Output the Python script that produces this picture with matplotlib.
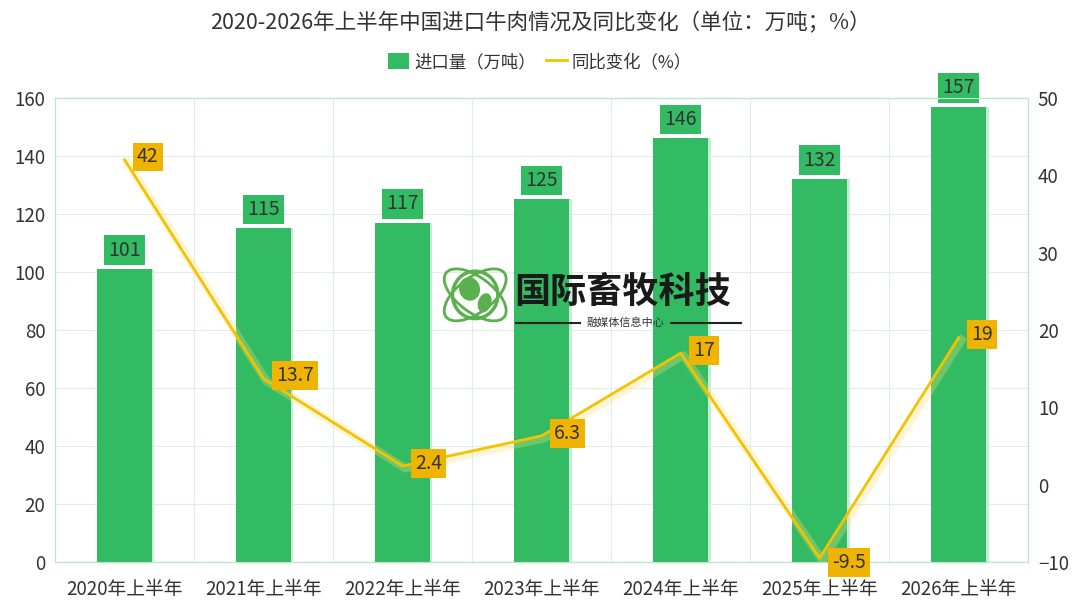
import matplotlib.pyplot as plt
import numpy as np
from matplotlib.patches import Ellipse, Circle

plt.rcParams['font.family'] = ['Noto Sans CJK SC', 'DejaVu Sans']

# data
years = ['2020年上半年', '2021年上半年', '2022年上半年', '2023年上半年',
         '2024年上半年', '2025年上半年', '2026年上半年']
imports = [101, 115, 117, 125, 146, 132, 157]
yoy = [42, 13.7, 2.4, 6.3, 17, -9.5, 19]
yoy_labels = ['42', '13.7', '2.4', '6.3', '17', '-9.5', '19']

GREEN = '#33BB63'
YELLOW = '#F5C200'
LABEL_Y = '#F0B400'
TXT = '#333333'

fig = plt.figure(figsize=(10.8, 6.08), dpi=100)
ax = fig.add_axes([0.051, 0.0757, 0.901, 0.7633])
ax2 = ax.twinx()

x = np.arange(len(years))
# soft bar shadow
ax.bar(x + 0.015, imports, width=0.4, color='#C8EDD4', zorder=2)
ax.bar(x, imports, width=0.4, color=GREEN, zorder=3)
for xi, v in zip(x, imports):
    ax.annotate(str(v), (xi, v), xytext=(0, 6), textcoords='offset points',
                ha='center', va='bottom', fontsize=14, color=TXT, zorder=5,
                bbox=dict(boxstyle='square,pad=0.22', fc=GREEN, ec='none'))

ax.set_xlim(-0.5, len(years) - 0.5)
ax.set_ylim(0, 160)
ax.set_yticks(np.arange(0, 161, 20))
ax.set_xticks(x)
ax.set_xticklabels(years)
ax.set_xticks(np.arange(-0.5, len(years), 0.5), minor=True)
ax.grid(axis='y', color='#DDF0E6', lw=0.8, zorder=0)
ax.grid(axis='x', which='minor', color='#DDF0E6', lw=0.8, zorder=0)
ax.grid(axis='x', which='major', visible=False)
ax.set_axisbelow(True)

# line with soft glow
ax2.plot(x + 0.02, np.array(yoy) - 0.3, color='#F9E07A', lw=6, alpha=0.3, zorder=3)
ax2.plot(x, yoy, color=YELLOW, lw=2, zorder=4)
ax2.set_ylim(-10, 50)
ax2.set_yticks(np.arange(-10, 51, 10))
for xi, v, s in zip(x, yoy, yoy_labels):
    dy = -3 if v < 0 else 2
    ax2.annotate(s, (xi, v), xytext=(9, dy), textcoords='offset points',
                 ha='left', va='center', fontsize=14, color=TXT, zorder=6,
                 bbox=dict(boxstyle='square,pad=0.2', fc=LABEL_Y, ec='none'))

for a in (ax, ax2):
    for sp in a.spines.values():
        sp.set_color('#B8E6C8')
    a.tick_params(length=0, labelsize=13.5, colors=TXT, pad=7)
ax.tick_params(axis='x', pad=12)
ax.tick_params(which='minor', length=0)

fig.text(0.5, 0.962, '2020-2026年上半年中国进口牛肉情况及同比变化（单位：万吨；%）',
         ha='center', va='center', fontsize=15.5, color=TXT)

# legend
handles = [plt.Rectangle((0, 0), 1, 1, fc=GREEN),
           plt.Line2D([0], [0], color=YELLOW, lw=2)]
fig.legend(handles, ['进口量（万吨）', '同比变化（%）'], loc='center',
           bbox_to_anchor=(0.5, 0.898), ncol=2, frameon=False, fontsize=12.5,
           handlelength=1.2, handleheight=1.0, columnspacing=0.6, handletextpad=0.3,
           labelcolor=TXT)

# watermark
wax = fig.add_axes([0.405, 0.45, 0.07, 0.13])
wax.set_xlim(-1, 1)
wax.set_ylim(-1, 1)
wax.axis('off')
wax.add_patch(Circle((0, 0), 0.6, fc='white', ec='#5BAF4E', lw=2.5))
wax.add_patch(Ellipse((-0.15, 0.15), 0.55, 0.6, angle=20, fc='#5BAF4E', ec='none'))
wax.add_patch(Ellipse((0.25, -0.2), 0.35, 0.5, angle=-20, fc='#5BAF4E', ec='none'))
wax.add_patch(Ellipse((0, 0), 1.9, 0.9, angle=35, fc='none', ec='#5BAF4E', lw=2))
wax.add_patch(Ellipse((0, 0), 1.9, 0.9, angle=-35, fc='none', ec='#5BAF4E', lw=2))
fig.text(0.476, 0.52, '国际畜牧科技', ha='left', va='center', fontsize=26,
         fontweight='bold', color='#1A1A1A')
fig.text(0.579, 0.469, '融媒体信息中心', ha='center', va='center', fontsize=8, color='#333333')
fig.add_artist(plt.Line2D([0.478, 0.537], [0.469, 0.469], color='#222222', lw=1.5))
fig.add_artist(plt.Line2D([0.621, 0.686], [0.469, 0.469], color='#222222', lw=1.5))

fig.savefig('out.png', dpi=100)
